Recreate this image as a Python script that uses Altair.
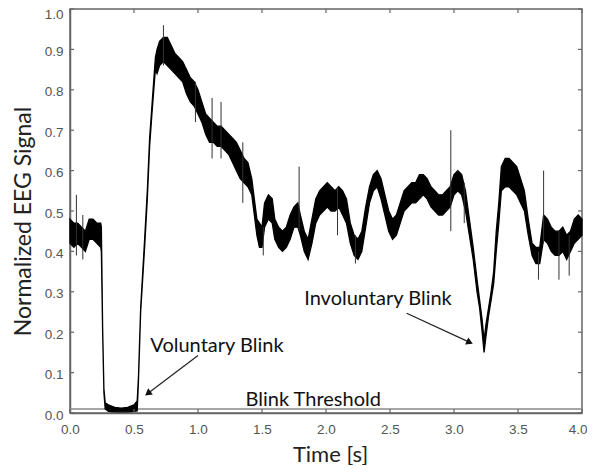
import math
import altair as alt
import pandas as pd

t = [0.00, 0.03, 0.06, 0.09, 0.12, 0.15, 0.18, 0.21, 0.24, 0.245,
     0.255, 0.265, 0.275, 0.30, 0.35, 0.40, 0.45, 0.50, 0.525,
     0.535, 0.552, 0.583, 0.604, 0.622, 0.64, 0.667, 0.68,
     0.70, 0.73, 0.76, 0.79, 0.82, 0.85, 0.88, 0.91, 0.94, 0.97,
     1.00, 1.03, 1.06, 1.09, 1.12, 1.15, 1.18, 1.21, 1.24, 1.27,
     1.30, 1.33, 1.36, 1.39, 1.42, 1.44, 1.46, 1.48, 1.50, 1.52,
     1.55, 1.58, 1.60, 1.63, 1.66, 1.69, 1.72, 1.75, 1.78, 1.80,
     1.83, 1.86, 1.89, 1.92, 1.95, 1.98, 2.01, 2.04, 2.07, 2.10,
     2.13, 2.16, 2.19, 2.22, 2.25, 2.28, 2.31, 2.34, 2.37, 2.40,
     2.43, 2.46, 2.49, 2.52, 2.55, 2.58, 2.61, 2.64, 2.67, 2.70,
     2.73, 2.76, 2.79, 2.82, 2.85, 2.88, 2.91, 2.94, 2.97, 3.00,
     3.03, 3.06, 3.09, 3.12, 3.15, 3.18, 3.20, 3.22, 3.235, 3.25,
     3.27, 3.29, 3.31, 3.33, 3.35, 3.37, 3.40, 3.43, 3.46, 3.49,
     3.52, 3.55, 3.58, 3.61, 3.64, 3.67, 3.70, 3.73, 3.76, 3.79,
     3.82, 3.85, 3.88, 3.91, 3.94, 3.97, 4.00]
lo = [0.42, 0.41, 0.42, 0.41, 0.40, 0.43, 0.43, 0.42, 0.41, 0.40,
      0.20, 0.05, 0.010, 0.004, 0.003, 0.003, 0.003, 0.004, 0.005,
      0.08, 0.25, 0.41, 0.53, 0.66, 0.74, 0.85, 0.84,
      0.86, 0.87, 0.86, 0.85, 0.84, 0.83, 0.82, 0.79, 0.77, 0.76,
      0.74, 0.72, 0.69, 0.67, 0.67, 0.66, 0.66, 0.65, 0.64, 0.62,
      0.60, 0.58, 0.57, 0.56, 0.54, 0.49, 0.44, 0.41, 0.41, 0.46,
      0.48, 0.47, 0.43, 0.41, 0.40, 0.41, 0.43, 0.46, 0.46, 0.44,
      0.40, 0.38, 0.42, 0.47, 0.49, 0.50, 0.51, 0.50, 0.50, 0.51,
      0.49, 0.47, 0.42, 0.39, 0.38, 0.40, 0.46, 0.52, 0.55, 0.56,
      0.53, 0.49, 0.45, 0.43, 0.44, 0.47, 0.50, 0.51, 0.52, 0.52,
      0.53, 0.54, 0.53, 0.51, 0.50, 0.49, 0.49, 0.50, 0.51, 0.54,
      0.55, 0.54, 0.50, 0.44, 0.38, 0.30, 0.26, 0.20, 0.15, 0.19,
      0.24, 0.28, 0.32, 0.40, 0.47, 0.55, 0.56, 0.56, 0.55, 0.54,
      0.52, 0.50, 0.44, 0.39, 0.37, 0.37, 0.43, 0.42, 0.40, 0.39,
      0.39, 0.40, 0.38, 0.40, 0.42, 0.43, 0.44]
hi = [0.48, 0.47, 0.47, 0.46, 0.45, 0.48, 0.48, 0.47, 0.47, 0.46,
      0.21, 0.06, 0.025, 0.020, 0.014, 0.012, 0.014, 0.020, 0.030,
      0.09, 0.26, 0.43, 0.55, 0.68, 0.76, 0.88, 0.90,
      0.92, 0.93, 0.93, 0.91, 0.89, 0.88, 0.87, 0.85, 0.83, 0.82,
      0.80, 0.77, 0.74, 0.73, 0.72, 0.71, 0.71, 0.70, 0.69, 0.68,
      0.67, 0.65, 0.63, 0.62, 0.58, 0.53, 0.48, 0.47, 0.46, 0.52,
      0.54, 0.53, 0.48, 0.46, 0.45, 0.46, 0.49, 0.51, 0.52, 0.49,
      0.45, 0.43, 0.48, 0.53, 0.55, 0.56, 0.57, 0.56, 0.55, 0.56,
      0.55, 0.53, 0.47, 0.44, 0.43, 0.45, 0.51, 0.56, 0.59, 0.60,
      0.58, 0.54, 0.50, 0.48, 0.49, 0.52, 0.55, 0.56, 0.57, 0.57,
      0.59, 0.59, 0.58, 0.56, 0.55, 0.54, 0.54, 0.55, 0.56, 0.59,
      0.60, 0.59, 0.55, 0.48, 0.41, 0.33, 0.28, 0.23, 0.18, 0.22,
      0.26, 0.30, 0.35, 0.45, 0.52, 0.61, 0.63, 0.63, 0.62, 0.61,
      0.58, 0.55, 0.48, 0.42, 0.41, 0.41, 0.49, 0.48, 0.46, 0.45,
      0.45, 0.46, 0.44, 0.45, 0.48, 0.49, 0.48]

# isolated noise spikes
spike_t = [0.05, 0.10, 0.73, 0.98, 1.11, 1.18, 1.35, 1.51, 1.79, 2.09,
           2.23, 2.975, 3.08, 3.66, 3.70, 3.82, 3.90]
spike_lo = [0.39, 0.38, 0.86, 0.72, 0.63, 0.63, 0.52, 0.39, 0.45, 0.44,
            0.37, 0.45, 0.47, 0.33, 0.42, 0.33, 0.34]
spike_hi = [0.54, 0.49, 0.96, 0.82, 0.78, 0.77, 0.67, 0.46, 0.61, 0.56,
            0.44, 0.70, 0.57, 0.40, 0.60, 0.45, 0.44]

threshold = 0.01

x_ticks = [0.0, 0.5, 1.0, 1.5, 2.0, 2.5, 3.0, 3.5, 4.0]
y_ticks = [0.0, 0.1, 0.2, 0.3, 0.4, 0.5, 0.6, 0.7, 0.8, 0.9, 1.0]

labels = ["Voluntary Blink", "Involuntary Blink", "Blink Threshold"]
label_t = [1.148, 2.406, 1.90]
label_v = [0.167, 0.283, 0.031]

arrow_t = [1.00, 2.63]
arrow_v = [0.1425, 0.247]
head_t = [0.615, 3.115]
head_v = [0.050, 0.176]

W, H = 512, 404

# ---- tables ----
trace = pd.DataFrame({"t": t, "v": lo, "v2": hi})
spikes = pd.DataFrame({"t": spike_t, "v": spike_lo, "v2": spike_hi})
thr = pd.DataFrame({"v": [threshold]})
xt = pd.DataFrame({"t": x_ticks})
yt = pd.DataFrame({"v": y_ticks})
notes = pd.DataFrame({"t": label_t, "v": label_v, "label": labels})
angles = [(math.degrees(math.atan2((h - a) * W / 4.0, (hv - av) * H)) + 360) % 360
          for a, av, h, hv in zip(arrow_t, arrow_v, head_t, head_v)]
arrows = pd.DataFrame({"t": arrow_t, "v": arrow_v, "t2": head_t, "v2": head_v,
                       "ang": angles})

GRAY = "#666666"
LABEL_FONT = "Liberation Sans"
TEXT_FONT = "Lato"

X = alt.X("t:Q", scale=alt.Scale(domain=[0, 4], nice=False),
          axis=alt.Axis(values=x_ticks, format=".1f", title="Time [s]",
                        tickSize=0, labelPadding=9, domainColor=GRAY,
                        domainWidth=1.5, labelColor="#555555",
                        labelFont=LABEL_FONT, labelFontSize=13.5,
                        labelAlign={"expr": "datum.value == 4 ? 'right' : 'center'"},
                        labelOffset={"expr": "datum.value == 4 ? 5 : 0"},
                        titleFont=TEXT_FONT, titleFontSize=22,
                        titleFontWeight="normal", titleColor="#222222",
                        titleX=260, titleY=41, titleBaseline="middle",
                        grid=False))
Y = alt.Y("v:Q", scale=alt.Scale(domain=[0, 1], nice=False),
          axis=alt.Axis(values=y_ticks, format=".1f",
                        title="Normalized EEG Signal",
                        tickSize=0, labelPadding=7, domainColor=GRAY,
                        domainWidth=1.5, labelColor="#555555",
                        labelFont=LABEL_FONT, labelFontSize=13.5,
                        labelOffset={"expr": "datum.value == 1 ? 5 : 2"},
                        titleFont=TEXT_FONT, titleFontSize=23,
                        titleFontWeight="normal", titleColor="#222222",
                        titleX=-47, titleY=212, titleBaseline="middle",
                        grid=False))

band = alt.Chart(trace).mark_area(color="black", stroke="black",
                                  strokeWidth=1.3, opacity=1).encode(
    x=X, y=Y, y2="v2:Q")

spk = alt.Chart(spikes).mark_rule(color="#333333", strokeWidth=1).encode(
    x=X, y=Y, y2="v2:Q")

thr_line = alt.Chart(thr).mark_rule(color="#888888", strokeWidth=1.5).encode(
    y=Y, x=alt.value(0), x2=alt.value(W))

tick_bottom = alt.Chart(xt).mark_rule(color=GRAY, strokeWidth=1.2).encode(
    x=X, y=alt.value(H), y2=alt.value(H - 4))
tick_top = alt.Chart(xt).mark_rule(color=GRAY, strokeWidth=1.2).encode(
    x=X, y=alt.value(0), y2=alt.value(4))
tick_left = alt.Chart(yt).mark_rule(color=GRAY, strokeWidth=1.2).encode(
    y=Y, x=alt.value(0), x2=alt.value(4))
tick_right = alt.Chart(yt).mark_rule(color=GRAY, strokeWidth=1.2).encode(
    y=Y, x=alt.value(W), x2=alt.value(W - 4))

txt = alt.Chart(notes).mark_text(font=TEXT_FONT, fontSize=20,
                                 color="#111111", align="center",
                                 baseline="middle").encode(
    x=X, y=Y, text="label:N")

arr = alt.Chart(arrows).mark_rule(color="#222222", strokeWidth=1.2).encode(
    x=X, y=Y, x2="t2:Q", y2="v2:Q")
heads = alt.Chart(arrows).mark_point(shape="triangle", filled=True,
                                     color="#111111", size=60,
                                     opacity=1).encode(
    x=alt.X("t2:Q", scale=alt.Scale(domain=[0, 4], nice=False)),
    y=alt.Y("v2:Q", scale=alt.Scale(domain=[0, 1], nice=False)),
    angle=alt.Angle("ang:Q", scale=None))

chart = alt.layer(
    thr_line, band, spk, tick_bottom, tick_top, tick_left, tick_right,
    txt, arr, heads
).properties(
    width=W, height=H,
    autosize=alt.AutoSizeParams(type="none"),
    padding={"left": 62, "top": 1, "right": 5, "bottom": 52},
    background="white",
).configure_view(stroke=GRAY, strokeWidth=1.5)

chart.save("out.html", embed_options={"renderer": "svg", "actions": False})
